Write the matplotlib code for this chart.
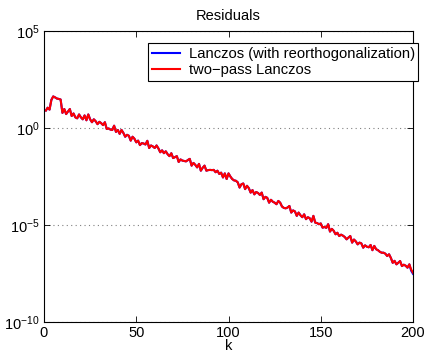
import numpy as np
import matplotlib
matplotlib.use("Agg")
import matplotlib.pyplot as plt
from matplotlib.ticker import FixedLocator, NullLocator

plt.rcParams['font.family'] = ['Liberation Sans', 'DejaVu Sans']
plt.rcParams['mathtext.default'] = 'regular'

# iteration index and log10 of the residual norm per iteration
k = np.arange(1, 201)
log_two_pass = [
    0.90, 1.05, 0.95, 1.45, 1.63, 1.58, 1.52, 1.50, 1.47, 0.78,
    0.98, 0.72, 0.85, 0.98, 0.62, 0.75, 0.55, 0.50, 0.70, 0.55,
    0.45, 0.65, 0.40, 0.70, 0.45, 0.30, 0.45, 0.35, 0.20, 0.32,
    0.25, 0.15, 0.30, -0.05, -0.02, -0.08, -0.10, 0.12, -0.20, -0.10,
    -0.30, -0.10, -0.25, -0.45, -0.35, -0.40, -0.65, -0.45, -0.55, -0.74,
    -0.65, -0.88, -0.78, -0.80, -0.85, -0.66, -1.03, -0.90, -0.95, -1.03,
    -0.90, -1.05, -1.25, -1.15, -1.30, -1.20, -1.35, -1.45, -1.30, -1.55,
    -1.50, -1.45, -1.75, -1.62, -1.68, -1.70, -1.72, -1.65, -1.59, -1.94,
    -1.80, -1.90, -2.03, -1.85, -2.20, -2.05, -1.94, -2.20, -2.17, -2.16,
    -2.17, -2.16, -2.28, -2.20, -2.37, -2.30, -2.55, -2.34, -2.63, -2.34,
    -2.50, -2.63, -2.70, -2.72, -2.80, -3.07, -2.90, -2.86, -3.15, -2.98,
    -3.10, -3.33, -3.20, -3.42, -3.30, -3.35, -3.45, -3.33, -3.67, -3.55,
    -3.60, -3.85, -3.70, -3.80, -3.85, -3.93, -3.76, -3.85, -4.05, -4.12,
    -4.14, -4.10, -4.02, -4.36, -4.25, -4.30, -4.53, -4.36, -4.50, -4.60,
    -4.45, -4.70, -4.60, -4.65, -4.83, -4.53, -4.88, -4.90, -4.96, -4.92,
    -5.14, -5.10, -5.15, -4.96, -5.34, -5.20, -5.30, -5.48, -5.40, -5.57,
    -5.50, -5.55, -5.62, -5.74, -5.65, -5.57, -5.91, -5.75, -5.85, -6.00,
    -5.91, -5.95, -6.17, -6.05, -6.12, -6.15, -6.03, -6.30, -6.08, -6.25,
    -6.30, -6.38, -6.43, -6.43, -6.48, -6.60, -6.51, -6.70, -6.95, -6.85,
    -7.03, -6.95, -6.86, -7.12, -7.05, -7.10, -7.20, -7.03, -7.30, -7.46,
]
# full reorthogonalization agrees except in the last couple of steps
log_reorth = log_two_pass[:198] + [-7.36, -7.52]

res_reorth = 10.0 ** np.array(log_reorth)
res_two_pass = 10.0 ** np.array(log_two_pass)

fig = plt.figure(figsize=(4.28, 3.53), dpi=100)
ax = fig.add_axes([0.1028, 0.088, 0.8622, 0.824])

ax.semilogy(k, res_reorth, color='#0000ff', lw=1.5,
            label='Lanczos (with reorthogonalization)')
ax.semilogy(k, res_two_pass, color='#ff0000', lw=1.5,
            label='two\u2212pass Lanczos')

ax.set_xlim(0, 200)
ax.set_ylim(1e-10, 1e5)
ax.xaxis.set_major_locator(FixedLocator([0, 50, 100, 150, 200]))
ax.yaxis.set_major_locator(FixedLocator([1e-10, 1e-5, 1e0, 1e5]))
ax.yaxis.set_minor_locator(NullLocator())
ax.tick_params(direction='in', top=True, right=True, length=4,
               width=0.6, labelsize=10.5, pad=3)
ax.grid(axis='y', which='major', linestyle=(0, (1, 3)), color='#808080',
        linewidth=0.8)
for sp in ax.spines.values():
    sp.set_linewidth(0.8)

ax.set_title('Residuals', fontsize=10.5, pad=8)
ax.set_xlabel('k', fontsize=10.5, labelpad=-1)

leg = ax.legend(loc='upper left', bbox_to_anchor=(0.346, 0.878),
                bbox_transform=fig.transFigure, fontsize=10.6,
                fancybox=False, framealpha=1, edgecolor='black',
                borderpad=0.25, handlelength=1.9, handletextpad=0.6,
                labelspacing=0.15, borderaxespad=0)
leg.get_frame().set_linewidth(0.8)

fig.savefig('out.png', dpi=100)
